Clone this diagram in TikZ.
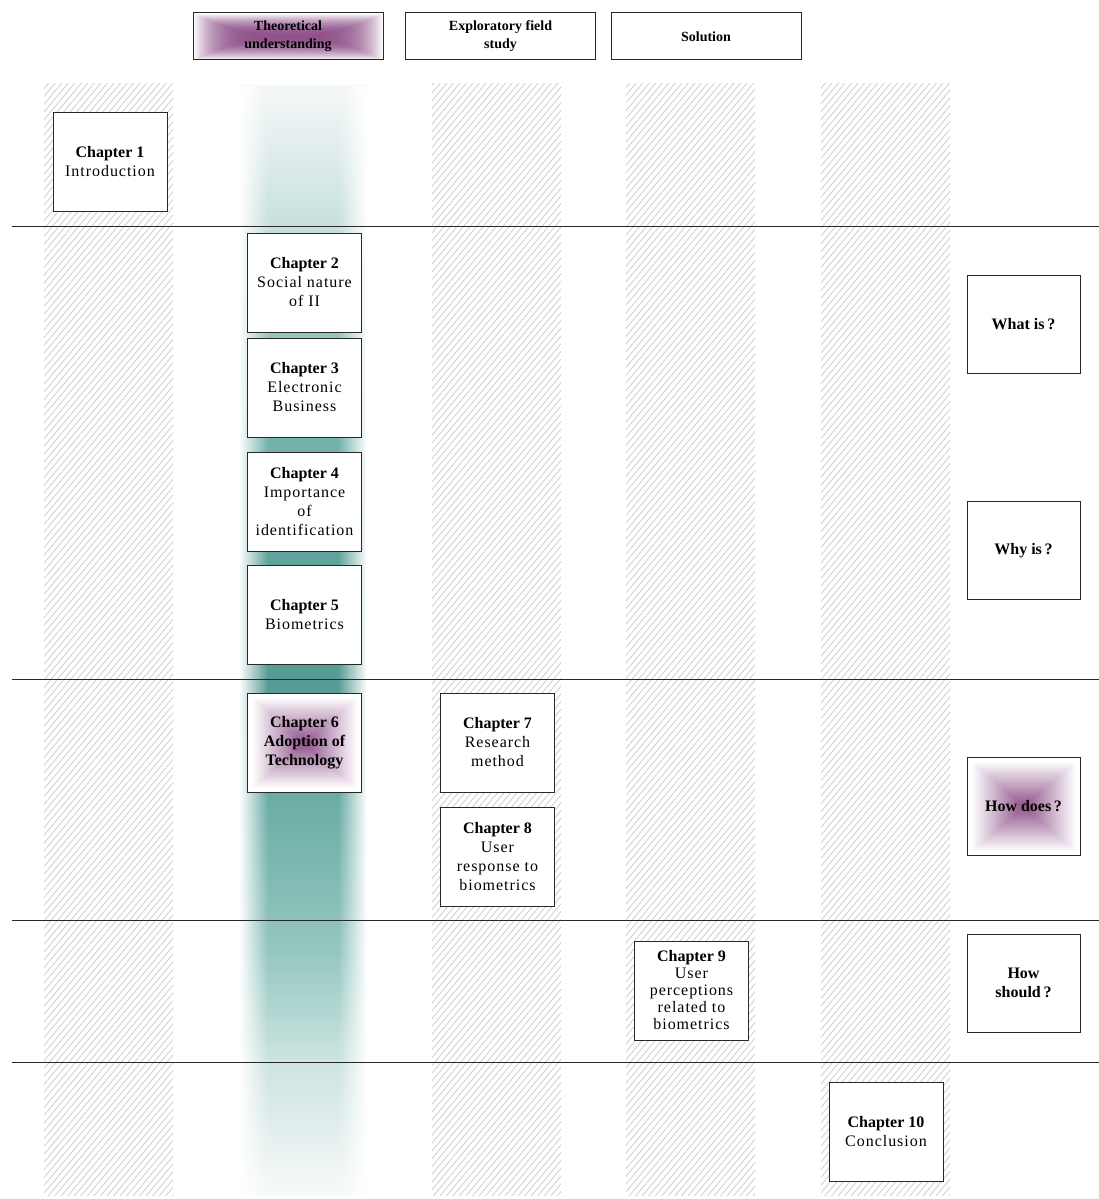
\documentclass[tikz,border=0pt]{standalone}
\usepackage{fontspec}
\setmainfont{Liberation Serif}
\newfontfamily\spacedfont[LetterSpace=6]{Liberation Serif}
\usetikzlibrary{patterns.meta,fadings}

\definecolor{rulegray}{RGB}{40,40,40}
\definecolor{hatchgray}{RGB}{200,200,200}

% purple glow, rectangular, centre to edge
\pgfdeclarefunctionalshading{boxglow}{\pgfpoint{-50bp}{-50bp}}{\pgfpoint{50bp}{50bp}}{}{
	abs exch abs 2 copy lt {exch} if pop 23 div
	dup 0.44 mul 0.56 add exch
	dup 0.68 mul 0.32 add exch
	0.46 mul 0.54 add
}
% purple glow for the wide header, soft only near the rim
\pgfdeclarefunctionalshading{barglow}{\pgfpoint{-50bp}{-50bp}}{\pgfpoint{50bp}{50bp}}{}{
	abs 25 div dup mul exch abs 25 div dup mul dup mul 2 copy lt {exch} if pop
	dup 0.44 mul 0.56 add exch
	dup 0.68 mul 0.32 add exch
	0.46 mul 0.54 add
}
% teal band, light at the ends, dark a bit below the middle
\pgfdeclareverticalshading{tealband}{100bp}{
	rgb(0bp)=(0.97,0.98,0.98);
	rgb(25bp)=(0.97,0.98,0.98);
	rgb(31.1bp)=(0.80,0.89,0.88);
	rgb(36bp)=(0.58,0.78,0.75);
	rgb(42.8bp)=(0.42,0.68,0.65);
	rgb(48.2bp)=(0.34,0.61,0.58);
	rgb(53.6bp)=(0.37,0.64,0.61);
	rgb(58.8bp)=(0.45,0.70,0.67);
	rgb(63.7bp)=(0.58,0.78,0.76);
	rgb(68.6bp)=(0.78,0.88,0.87);
	rgb(72.1bp)=(0.88,0.93,0.93);
	rgb(75bp)=(0.96,0.97,0.97);
	rgb(100bp)=(0.96,0.97,0.97)
}
\tikzfading[name=fadeleft, left color=transparent!0, right color=transparent!100]
\tikzfading[name=faderight, left color=transparent!100, right color=transparent!0]

\newcommand{\chapt}[1]{{\rmfamily\bfseries Chapter #1}}

\begin{document}
\begin{tikzpicture}[x=1pt,y=-1pt,
	header/.style={draw=rulegray,line width=1pt,minimum width=190pt,minimum height=47pt,
		align=center,font=\fontsize{14}{18}\selectfont\bfseries},
	chapbox/.style={draw=rulegray,fill=white,line width=1pt,minimum width=114pt,minimum height=99pt,
		inner sep=1pt,align=center,font=\fontsize{16}{19}\selectfont\spacedfont},
	qbox/.style={draw=rulegray,fill=white,line width=1pt,minimum width=113pt,minimum height=98pt,
		align=center,font=\fontsize{16}{19}\selectfont\bfseries},
	glow/.style={shade,shading=boxglow}]
	\useasboundingbox (0,0) rectangle (1099,1199);

	% hatched columns
	\foreach \x in {44,432,626,821}
		\fill[pattern={Lines[angle=50,distance=5pt,line width=0.7pt]},pattern color=hatchgray] (\x,83) rectangle +(129,1112);

	% teal column with soft sides
	\shade[shading=tealband] (240,85) rectangle (366,1195);
	\fill[white,path fading=fadeleft] (239,84) rectangle (268,1196);
	\fill[white,path fading=faderight] (338,84) rectangle (367,1196);

	% row rules
	\foreach \y in {226,679,920,1062}
		\draw[line width=1pt,rulegray] (12,\y) -- (1099,\y);

	% column headers
	\node[header,shade,shading=barglow] (theory) at (288,36.5) {Theoretical\\understanding};
	\node[header] (field) at (500.5,36.5) {Exploratory field\\study};
	\node[header] (solution) at (706,36.5) {Solution};

	% chapters
	\node[chapbox] (ch1) at (110,161.5) {\chapt{1}\\Introduction};
	\node[chapbox] (ch2) at (304.5,282.5) {\chapt{2}\\Social nature\\of II};
	\node[chapbox] (ch3) at (304.5,387.5) {\chapt{3}\\Electronic\\Business};
	\node[chapbox] (ch4) at (304.5,501.5) {\chapt{4}\\Importance\\of\\identification};
	\node[chapbox] (ch5) at (304.5,614.5) {\chapt{5}\\Biometrics};
	\node[chapbox,glow,font=\fontsize{16}{19}\selectfont\bfseries] (ch6) at (304.5,742.5) {Chapter 6\\Adoption of\\Technology};
	\node[chapbox] (ch7) at (497.5,742.5) {\chapt{7}\\Research\\method};
	\node[chapbox] (ch8) at (497.5,856.5) {\chapt{8}\\User\\response to\\biometrics};
	\node[chapbox,font=\fontsize{16}{17}\selectfont\spacedfont] (ch9) at (691.5,990.5) {\chapt{9}\\User\\perceptions\\related to\\biometrics};
	\node[chapbox] (ch10) at (886,1131.5) {\chapt{10}\\Conclusion};

	% research questions
	\node[qbox] (what) at (1023.5,324) {What is\,?};
	\node[qbox] (why) at (1023.5,550.5) {Why is\,?};
	\node[qbox,glow] (how) at (1023.5,806) {How does\,?};
	\node[qbox] (should) at (1023.5,983) {How\\should\,?};
\end{tikzpicture}
\end{document}
